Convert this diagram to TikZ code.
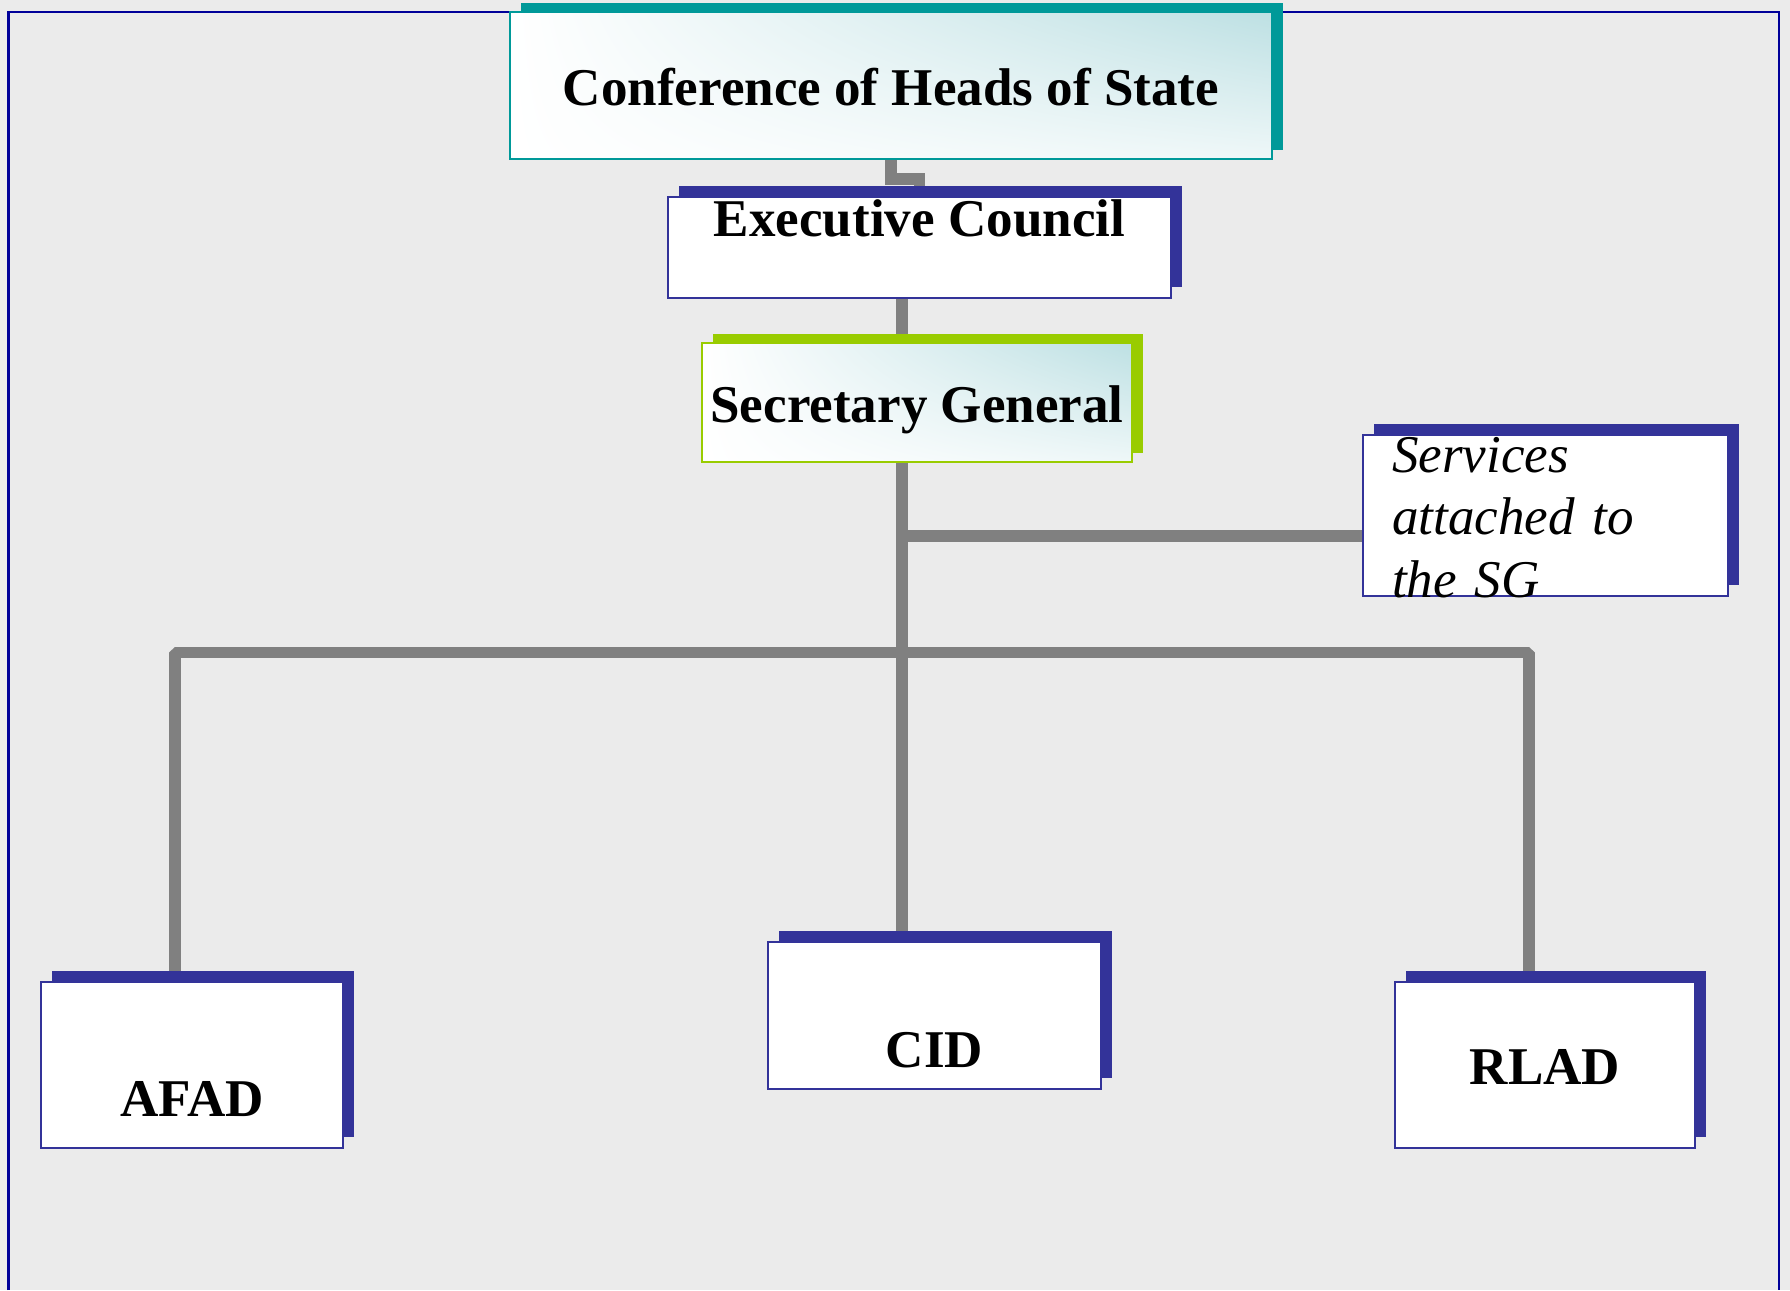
\documentclass[tikz,border=0pt]{standalone}
\usepackage{fontspec}
\setmainfont{Liberation Serif}
\usetikzlibrary{shadows,shadings}

\definecolor{panelgrey}{HTML}{EBEBEB}
\definecolor{framenavy}{HTML}{000099}
\definecolor{boxblue}{HTML}{333399}
\definecolor{confteal}{HTML}{009999}
\definecolor{sglime}{HTML}{99CC00}
\definecolor{gradteal}{HTML}{BDE0E3}
\definecolor{wiregrey}{HTML}{808080}

\pgfdeclarelayer{back}
\pgfdeclarelayer{wires}
\pgfsetlayers{back,wires,main}

\tikzset{
  boxbase/.style={rectangle,draw=boxblue,line width=0.5pt,fill=white,inner sep=0pt,anchor=base,
    font=\fontsize{15.1}{18}\selectfont\bfseries},
  orgbox/.style={boxbase,general shadow={fill=boxblue,shadow xshift=1.1mm,shadow yshift=1.1mm}},
  topbox/.style={boxbase,draw=#1,upper left=white,upper right=gradteal,lower left=white,lower right=gradteal!25,
    general shadow={fill=#1,shadow xshift=1.1mm,shadow yshift=0.9mm}},
  link/.style={draw=wiregrey,line width=3.2pt}
}

\begin{document}
\begin{tikzpicture}
    \useasboundingbox (0,0) rectangle (17.9,-12.9);
    \begin{pgfonlayer}{back}
    \fill[panelgrey] (0,0) rectangle (17.9,-12.9);
    \draw[framenavy,line width=0.6pt] (0.085,-12.9) -- (0.085,-0.12) -- (17.79,-0.12) -- (17.79,-12.9);
    \end{pgfonlayer}

    % Organisation chart
    \node[topbox=confteal,minimum width=7.62cm,text height=0.93cm,text depth=0.54cm] (chs) at (8.91,-1.05) {Conference of Heads of State};
    \node[orgbox,minimum width=5.03cm,text height=0.39cm,text depth=0.62cm] (exec) at (9.195,-2.36) {Executive Council};
    \node[topbox=sglime,minimum width=4.30cm,text height=0.79cm,text depth=0.40cm] (sg) at (9.17,-4.22) {Secretary General};
    \node[orgbox,minimum width=3.65cm,text width=3.07cm,inner xsep=0.29cm,align=left,
      text height=0.37cm,text depth=1.24cm,font=\fontsize{15.1}{17.9}\selectfont\itshape] (svc) at (15.455,-4.72) {Services\\attached to\\the SG};
    \node[orgbox,minimum width=3.33cm,text height=1.25cm,text depth=0.22cm] (cid) at (9.345,-10.67) {CID};
    \node[orgbox,minimum width=3.02cm,text height=1.34cm,text depth=0.32cm] (afad) at (1.92,-11.16) {AFAD};
    \node[orgbox,minimum width=3.00cm,text height=1.02cm,text depth=0.64cm] (rlad) at (15.45,-10.84) {RLAD};

    \coordinate (trunk) at (9.02,-6.525);
    \coordinate (svcjoin) at (9.02,-5.36);

    \begin{pgfonlayer}{wires}
    \draw[link] (chs.south) -- ++(0,-0.19) -| (exec.north);
    \draw[link] (exec.south -| trunk) -- (sg.north -| trunk);
    \draw[link] (sg.south -| trunk) -- (cid.north -| trunk);
    \draw[link] (svcjoin) -- (svcjoin -| svc.west);
    \draw[link,line join=bevel] ([xshift=-1.7mm]afad.north) |- (trunk) -| ([xshift=-1.6mm]rlad.north);
    \end{pgfonlayer}
\end{tikzpicture}
\end{document}
